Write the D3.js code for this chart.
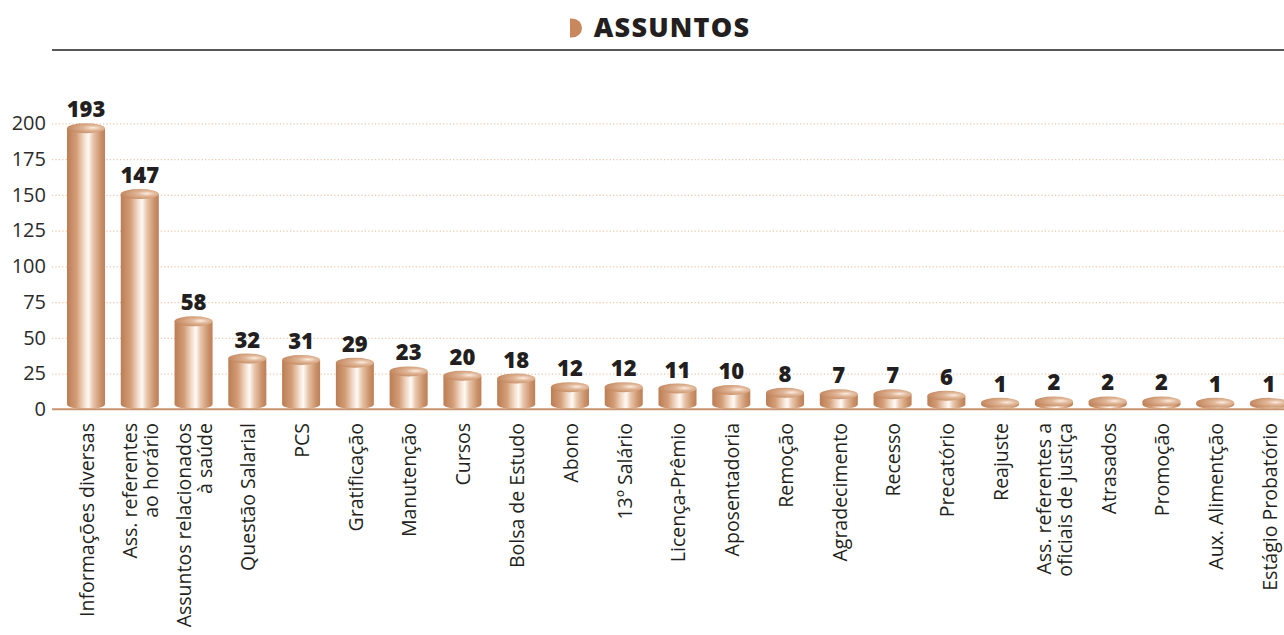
<!DOCTYPE html>
<html>
<head>
<meta charset="utf-8">
<script src="https://cdn.jsdelivr.net/npm/d3@7"></script>
<style>
  body { margin:0; background:#fff; }
  svg { display:block; font-family:"Open Sans", "Noto Sans", sans-serif; }
</style>
</head>
<body>
<svg width="1284" height="635"></svg>
<script>
// dados
const categories = [
  ["Informações diversas"],
  ["Ass. referentes", "ao horário"],
  ["Assuntos relacionados", "à saúde"],
  ["Questão Salarial"],
  ["PCS"],
  ["Gratificação"],
  ["Manutenção"],
  ["Cursos"],
  ["Bolsa de Estudo"],
  ["Abono"],
  ["13º Salário"],
  ["Licença-Prêmio"],
  ["Aposentadoria"],
  ["Remoção"],
  ["Agradecimento"],
  ["Recesso"],
  ["Precatório"],
  ["Reajuste"],
  ["Ass. referentes a", "oficiais de justiça"],
  ["Atrasados"],
  ["Promoção"],
  ["Aux. Alimentção"],
  ["Estágio Probatório"]
]
const values = [193,147,58,32,31,29,23,20,18,12,12,11,10,8,7,7,6,1,2,2,2,1,1]
const yTicks = [0,25,50,75,100,125,150,175,200]
const title = "ASSUNTOS"

const svg = d3.select("svg")
const width = +svg.attr("width")
const height = +svg.attr("height")
const margin = { left:52, base:409.3, top:123.3 }

const keys = categories.map((c,i) => i)
const xScale = d3.scaleBand()
    .domain(keys)
    .range([67, 1288])
    .paddingInner(0.293)
    .paddingOuter(0)
const yScale = d3.scaleLinear()
    .domain([0,200])
    .range([margin.base, margin.top])

// gradientes
const defs = svg.append("defs")
const body = defs.append("linearGradient").attr("id","body")
    .attr("x1","0").attr("x2","1").attr("y1","0").attr("y2","0")
;[[0,"#bb7d54"],[0.25,"#d39d77"],[0.45,"#f3dccb"],[0.56,"#fffaf5"],[0.68,"#e9c7ad"],[0.88,"#cb936b"],[1,"#bd7f57"]]
  .forEach(s => body.append("stop").attr("offset",s[0]).attr("stop-color",s[1]))
const cap = defs.append("radialGradient").attr("id","cap")
    .attr("cx","0.68").attr("cy","0.45").attr("r","0.7")
;[[0,"#fbece0"],[0.35,"#e0b697"],[1,"#c2855c"]]
  .forEach(s => cap.append("stop").attr("offset",s[0]).attr("stop-color",s[1]))

// titulo
svg.append("path")
    .attr("d","M570,18.5 L572,18.5 A10,9.5 0 0 1 572,37.5 L570,37.5 Z")
    .attr("fill","#c8875c")
svg.append("text")
    .attr("x",672).attr("y",37)
    .attr("text-anchor","middle")
    .attr("font-size","27px")
    .attr("font-weight","800")
    .attr("letter-spacing","1.2px")
    .attr("fill","#231f20")
    .text(title)
svg.append("line")
    .attr("x1",margin.left).attr("x2",width)
    .attr("y1",50).attr("y2",50)
    .attr("stroke","#231f20").attr("stroke-width",1.5)

// eixo y
const yAxis = d3.axisLeft(yScale)
    .tickValues(yTicks)
    .tickSize(-(width-margin.left))
    .tickPadding(6)
const yAxisG = svg.append("g")
    .attr("transform",`translate(${margin.left},0)`)
    .call(yAxis)
yAxisG.select(".domain").remove()
yAxisG.selectAll(".tick line")
    .attr("stroke","#eac6ab")
    .attr("stroke-dasharray","1.2,2.2")
    .attr("stroke-width",1.2)
yAxisG.selectAll(".tick text")
    .attr("font-size","20px")
    .attr("fill","#2b2b2b")
    .attr("font-family","'Open Sans', sans-serif")
yAxisG.selectAll(".tick").filter(d => d === 0).select("line").remove()

// barras (cilindros)
const ry = 5
const bw = xScale.bandwidth()
const bars = svg.append("g").selectAll("g").data(values).enter().append("g")
bars.append("path")
    .attr("d",(d,i) => {
      const x0 = xScale(i), x1 = x0 + bw
      const top = yScale(d) - ry, base = margin.base - ry
      return `M${x0},${top} L${x0},${base} A${bw/2},${ry} 0 0 0 ${x1},${base} L${x1},${top} Z`
    })
    .attr("fill","url(#body)")
bars.append("ellipse")
    .attr("cx",(d,i) => xScale(i) + bw/2)
    .attr("cy",d => yScale(d) - ry)
    .attr("rx",bw/2).attr("ry",ry)
    .attr("fill","url(#cap)")

// linha base
svg.append("line")
    .attr("x1",margin.left).attr("x2",width)
    .attr("y1",margin.base).attr("y2",margin.base)
    .attr("stroke","#c9946e").attr("stroke-width",2)

// rotulos de valor
svg.append("g").selectAll("text").data(values).enter().append("text")
    .attr("x",(d,i) => xScale(i) + bw/2)
    .attr("y",d => yScale(d) - 2*ry - 6)
    .attr("text-anchor","middle")
    .attr("font-size","22px")
    .attr("font-weight","800")
    .attr("fill","#231f20")
    .text(d => d)

// rotulos das categorias
const lab = svg.append("g").selectAll("text").data(categories).enter().append("text")
    .attr("transform",(d,i) => `translate(${xScale(i) + bw/2 + 1},423) rotate(-90)`)
    .attr("text-anchor","end")
    .attr("font-size","19.5px")
    .attr("fill","#231f20")
lab.selectAll("tspan").data(d => d).enter().append("tspan")
    .attr("x",0)
    .attr("y",(t,j,nodes) => (j - (nodes.length-1)/2) * 21)
    .attr("dy","0.35em")
    .text(t => t)
</script>
</body>
</html>
